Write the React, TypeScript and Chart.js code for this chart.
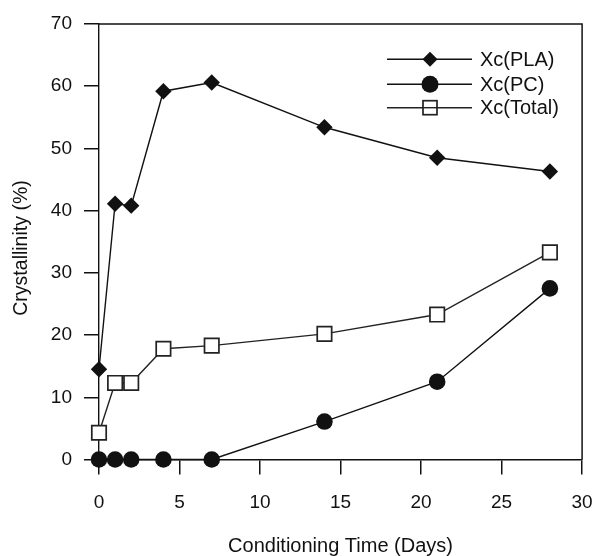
import React, { useEffect, useRef } from "react";
import { Chart, registerables } from "chart.js";

Chart.register(...registerables);

const days = [0, 1, 2, 4, 7, 14, 21, 28];
const xcPLA = [14.5, 41.1, 40.8, 59.2, 60.6, 53.4, 48.5, 46.3];
const xcPC = [0, 0, 0, 0, 0, 6.1, 12.5, 27.5];
const xcTotal = [4.3, 12.3, 12.3, 17.8, 18.3, 20.2, 23.3, 33.3];
const seriesNames = ["Xc(PLA)", "Xc(PC)", "Xc(Total)"];
const xTitle = "Conditioning Time (Days)";
const yTitle = "Crystallinity (%)";

const FONT = "'Liberation Sans', Arial, sans-serif";
const INK = "#111";

const framePlugin = {
  id: "frame",
  afterDraw(chart: any) {
    const { ctx, chartArea } = chart;
    ctx.save();
    ctx.strokeStyle = INK;
    ctx.lineWidth = 1.5;
    ctx.beginPath();
    ctx.moveTo(chartArea.left, chartArea.top);
    ctx.lineTo(chartArea.right, chartArea.top);
    ctx.lineTo(chartArea.right, chartArea.bottom);
    ctx.stroke();
    // y axis title
    ctx.translate(14, 240);
    ctx.rotate(-Math.PI / 2);
    ctx.fillStyle = INK;
    ctx.font = `19.5px ${FONT}`;
    ctx.textAlign = "center";
    ctx.textBaseline = "middle";
    ctx.fillText(yTitle, 0, 0);
    ctx.restore();
  },
};

const legendPlugin = {
  id: "customLegend",
  afterDraw(chart: any) {
    const { ctx } = chart;
    const x0 = 379;
    const x1 = 464;
    const xm = 422;
    const rows = [51.3, 76.3, 99.7];
    ctx.save();
    chart.data.datasets.forEach((ds: any, i: number) => {
      const y = rows[i];
      ctx.strokeStyle = ds.borderColor;
      ctx.lineWidth = 1.4;
      ctx.beginPath();
      ctx.moveTo(x0, y);
      ctx.lineTo(x1, y);
      ctx.stroke();
      ctx.beginPath();
      if (ds.pointStyle === "rectRot") {
        const r = 7.5;
        ctx.moveTo(xm - r, y);
        ctx.lineTo(xm, y - r);
        ctx.lineTo(xm + r, y);
        ctx.lineTo(xm, y + r);
        ctx.closePath();
        ctx.fillStyle = ds.pointBackgroundColor;
        ctx.fill();
      } else if (ds.pointStyle === "circle") {
        ctx.arc(xm, y, 8.5, 0, Math.PI * 2);
        ctx.fillStyle = ds.pointBackgroundColor;
        ctx.fill();
      } else {
        const s = 7;
        ctx.fillStyle = "#fff";
        ctx.fillRect(xm - s, y - s, 2 * s, 2 * s);
        ctx.lineWidth = ds.pointBorderWidth;
        ctx.strokeStyle = ds.pointBorderColor;
        ctx.strokeRect(xm - s, y - s, 2 * s, 2 * s);
        ctx.beginPath();
        ctx.lineWidth = 1.4;
        ctx.moveTo(xm - s, y);
        ctx.lineTo(xm + s, y);
        ctx.stroke();
      }
      ctx.fillStyle = INK;
      ctx.font = `20px ${FONT}`;
      ctx.textAlign = "left";
      ctx.textBaseline = "middle";
      ctx.fillText(ds.label, 472, y + 1);
    });
    ctx.restore();
  },
};

export default function App() {
  const ref = useRef<HTMLCanvasElement | null>(null);
  useEffect(() => {
    if (!ref.current) return;
    const mk = (label: string, data: number[], style: string, radius: number, fill: string, color: string) => ({
      label,
      data: days.map((d, i) => ({ x: d, y: data[i] })),
      borderColor: color,
      borderWidth: 1.4,
      pointStyle: style,
      pointRadius: radius,
      pointHoverRadius: radius,
      pointBackgroundColor: fill,
      pointBorderColor: color,
      pointBorderWidth: style === "rect" ? 1.7 : 0,
      clip: false as any,
    });
    const chart = new Chart(ref.current, {
      type: "line",
      data: {
        datasets: [
          mk(seriesNames[0], xcPLA, "rectRot", 8.2, INK, INK),
          mk(seriesNames[1], xcPC, "circle", 8.3, INK, INK),
          mk(seriesNames[2], xcTotal, "rect", 10.2, "#fff", "#222"),
        ] as any,
      },
      options: {
        animation: false,
        responsive: false,
        maintainAspectRatio: false,
        layout: { padding: { top: 16, right: 11, left: 0, bottom: 0 } },
        plugins: { legend: { display: false }, tooltip: { enabled: false } },
        scales: {
          x: {
            type: "linear",
            min: 0,
            max: 30,
            ticks: { stepSize: 5, color: INK, font: { family: FONT, size: 19 }, padding: 17 },
            grid: { drawOnChartArea: false, tickLength: 15, color: INK, lineWidth: 1.5 },
            border: { color: INK, width: 1.4 },
            title: { display: true, text: xTitle, color: INK, font: { family: FONT, size: 20, lineHeight: 1 }, padding: { top: 0, bottom: 0 } },
            afterFit(scale: any) {
              scale.height = 96.5;
              scale.paddingLeft = 0;
              scale.paddingRight = 0;
            },
          },
          y: {
            min: 0,
            max: 70,
            ticks: { stepSize: 10, color: INK, font: { family: FONT, size: 19 }, padding: 12 },
            grid: { drawOnChartArea: false, tickLength: 15, color: INK, lineWidth: 1.5 },
            border: { color: INK, width: 1.4 },
            afterFit(scale: any) {
              scale.width = 91;
              scale.paddingTop = 0;
              scale.paddingBottom = 0;
            },
          },
        },
      },
      plugins: [framePlugin, legendPlugin],
    });
    return () => chart.destroy();
  }, []);
  return (
    <div style={{ padding: "8px 0 0 8px", width: 586, height: 548, background: "#fff" }}>
      <style>{"body{margin:0}"}</style>
      <canvas ref={ref} width={586} height={548} style={{ display: "block" }} />
    </div>
  );
}
